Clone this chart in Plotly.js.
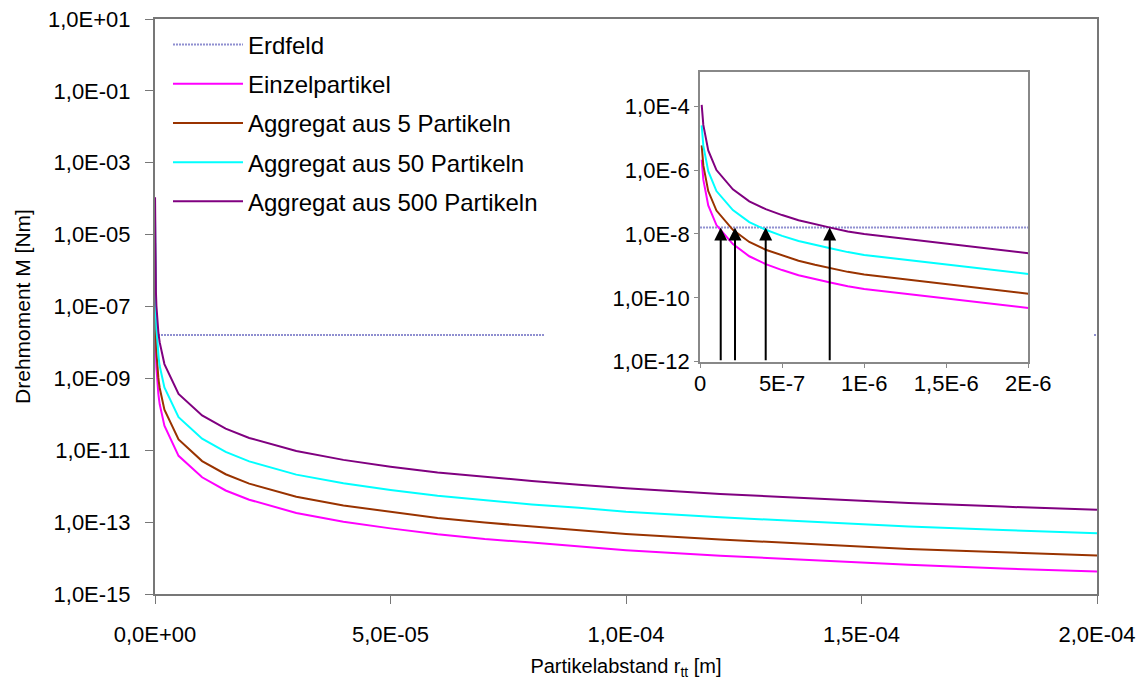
<!DOCTYPE html>
<html>
<head>
<meta charset="utf-8">
<script src="https://cdn.plot.ly/plotly-3.0.1.min.js"></script>
<style>html,body{margin:0;padding:0;background:#fff;}#chart{width:1147px;height:680px;}</style>
</head>
<body>
<div id="chart"></div>
<script>
// Particle distance r_tt [m]
const distance = [1e-8, 2e-8, 5e-8, 1e-7, 2e-7, 3e-7, 4e-7, 5e-7, 6e-7, 7e-7, 8e-7, 9e-7, 1e-6, 2e-6,
  5e-6, 1e-5, 1.5e-5, 2e-5, 3e-5, 4e-5, 5e-5, 6e-5, 7e-5, 8e-5, 9e-5, 1e-4, 1.2e-4, 1.4e-4, 1.6e-4, 1.8e-4, 2e-4];

// Torque M [Nm]
const einzelpartikel = [2.1e-6, 5.0e-7, 7.8e-8, 1.9e-8, 4.8e-9, 2.0e-9, 1.14e-9, 7.4e-10, 5.1e-10, 3.8e-10, 2.95e-10, 2.3e-10, 1.9e-10, 4.8e-11,
  7.0e-12, 1.77e-12, 7.6e-13, 4.2e-13, 1.8e-13, 1.03e-13, 6.7e-14, 4.6e-14, 3.4e-14, 2.7e-14, 2.1e-14, 1.66e-14, 1.16e-14, 8.6e-15, 6.5e-15, 5.1e-15, 4.2e-15];
const aggregat5 = [5.9e-6, 1.4e-6, 2.2e-7, 5.4e-8, 1.35e-8, 5.6e-9, 3.2e-9, 2.1e-9, 1.45e-9, 1.08e-9, 8.3e-10, 6.5e-10, 5.4e-10, 1.35e-10,
  2.0e-11, 5.0e-12, 2.15e-12, 1.18e-12, 5.1e-13, 2.9e-13, 1.9e-13, 1.3e-13, 9.7e-14, 7.5e-14, 5.9e-14, 4.7e-14, 3.3e-14, 2.4e-14, 1.8e-14, 1.45e-14, 1.18e-14];
const aggregat50 = [2.5e-5, 5.8e-6, 9.2e-7, 2.2e-7, 5.6e-8, 2.35e-8, 1.35e-8, 8.7e-9, 6.0e-9, 4.5e-9, 3.5e-9, 2.7e-9, 2.2e-9, 5.6e-10,
  8.3e-11, 2.1e-11, 9.0e-12, 4.9e-12, 2.1e-12, 1.2e-12, 7.8e-13, 5.4e-13, 4.0e-13, 3.1e-13, 2.5e-13, 1.95e-13, 1.36e-13, 1.0e-13, 7.6e-14, 6.0e-14, 4.9e-14];
const aggregat500 = [1.1e-4, 2.6e-5, 4.1e-6, 1.0e-6, 2.5e-7, 1.05e-7, 6.0e-8, 3.9e-8, 2.7e-8, 2.0e-8, 1.55e-8, 1.2e-8, 1.0e-8, 2.5e-9,
  3.7e-10, 9.3e-11, 4.0e-11, 2.2e-11, 9.5e-12, 5.4e-12, 3.5e-12, 2.4e-12, 1.8e-12, 1.4e-12, 1.1e-12, 8.7e-13, 6.1e-13, 4.5e-13, 3.4e-13, 2.7e-13, 2.2e-13];

// Earth field torque (constant)
const erdfeldX = [0, 2e-4];
const erdfeldY = [1.6e-8, 1.6e-8];

// Distances where curves cross the Erdfeld level (arrows in inset)
const crossR = [1.26e-7, 2.13e-7, 4.0e-7, 7.9e-7];

const seriesNames = ['Einzelpartikel', 'Aggregat aus 5 Partikeln', 'Aggregat aus 50 Partikeln', 'Aggregat aus 500 Partikeln'];
const seriesData = [einzelpartikel, aggregat5, aggregat50, aggregat500];
const seriesColors = ['#ff00ff', '#993300', '#00ffff', '#800080'];

const mainYTickVals = [1e1, 1e-1, 1e-3, 1e-5, 1e-7, 1e-9, 1e-11, 1e-13, 1e-15];
const mainYTickText = ['1,0E+01', '1,0E-01', '1,0E-03', '1,0E-05', '1,0E-07', '1,0E-09', '1,0E-11', '1,0E-13', '1,0E-15'];
const mainXTickVals = [0, 5e-5, 1e-4, 1.5e-4, 2e-4];
const mainXTickText = ['0,0E+00', '5,0E-05', '1,0E-04', '1,5E-04', '2,0E-04'];
const insetYTickVals = [1e-4, 1e-6, 1e-8, 1e-10, 1e-12];
const insetYTickText = ['1,0E-4', '1,0E-6', '1,0E-8', '1,0E-10', '1,0E-12'];
const insetXTickVals = [0, 5e-7, 1e-6, 1.5e-6, 2e-6];
const insetXTickText = ['0', '5E-7', '1E-6', '1,5E-6', '2E-6'];

const FONT = 'Liberation Sans, Arial, sans-serif';
const erdColor = '#8f8fd0';
const erdDash = '2px,1px';

const traces = [];
traces.push({x: erdfeldX, y: erdfeldY, type: 'scatter', mode: 'lines', name: 'Erdfeld',
  legendgroup: 'g0', line: {color: erdColor, width: 2, dash: erdDash}, xaxis: 'x', yaxis: 'y'});
seriesNames.forEach((n, i) => {
  traces.push({x: distance, y: seriesData[i], type: 'scatter', mode: 'lines', name: n,
    legendgroup: 'g' + (i + 1), line: {color: seriesColors[i], width: 2}, xaxis: 'x', yaxis: 'y'});
});
// empty white panel behind the inset (covers the area of the embedded chart)
traces.push({x: [], y: [], type: 'scatter', mode: 'lines', showlegend: false, hoverinfo: 'skip', xaxis: 'x2', yaxis: 'y2'});
// inset traces
traces.push({x: erdfeldX, y: erdfeldY, type: 'scatter', mode: 'lines', showlegend: false,
  line: {color: erdColor, width: 2, dash: erdDash}, xaxis: 'x3', yaxis: 'y3'});
seriesNames.forEach((n, i) => {
  traces.push({x: distance, y: seriesData[i], type: 'scatter', mode: 'lines', showlegend: false,
    line: {color: seriesColors[i], width: 2}, xaxis: 'x3', yaxis: 'y3'});
});

const annotations = crossR.map(r => ({
  xref: 'x3', yref: 'y3', axref: 'x3', ayref: 'y3',
  x: r, y: Math.log10(erdfeldY[0]), ax: r, ay: -12,
  text: '', showarrow: true, arrowhead: 2, arrowsize: 1.3, arrowwidth: 2, arrowcolor: '#000', standoff: 0, startstandoff: 0
}));

const layout = {
  width: 1147, height: 680,
  margin: {l: 155, r: 50, t: 19, b: 86},
  paper_bgcolor: '#fff', plot_bgcolor: '#fff',
  font: {family: FONT, color: '#000'},
  showlegend: true,
  legend: {x: 0.0138, y: 0.994, xanchor: 'left', yanchor: 'top', bgcolor: 'rgba(0,0,0,0)',
    font: {size: 24, family: FONT}, itemwidth: 70, tracegroupgap: 5, traceorder: 'grouped'},
  xaxis: {domain: [0, 1], range: [0, 2e-4], tickvals: mainXTickVals, ticktext: mainXTickText,
    ticks: 'outside', ticklen: 8, tickcolor: '#777', tickwidth: 1, ticklabelstandoff: 12,
    showgrid: false, zeroline: false, showline: true, linecolor: '#777', linewidth: 2, mirror: true,
    tickfont: {size: 22}, title: {text: 'Partikelabstand r<sub>tt</sub> [m]', font: {size: 20}, standoff: 14}},
  yaxis: {domain: [0, 1], type: 'log', range: [-15, 1], tickvals: mainYTickVals, ticktext: mainYTickText,
    ticks: 'outside', ticklen: 8, tickcolor: '#777', tickwidth: 1, ticklabelstandoff: 10,
    showgrid: false, zeroline: false, showline: true, linecolor: '#777', linewidth: 2, mirror: true,
    tickfont: {size: 22}, title: {text: 'Drehmoment M [Nm]', font: {size: 21}, standoff: 12}},
  xaxis2: {domain: [0.414, 0.9958], anchor: 'y2', visible: false, showgrid: false, zeroline: false, range: [0, 1]},
  yaxis2: {domain: [0.3287, 0.9948], anchor: 'x2', visible: false, showgrid: false, zeroline: false, range: [0, 1]},
  xaxis3: {domain: [0.5786, 0.9271], anchor: 'y3', range: [0, 2e-6], tickvals: insetXTickVals, ticktext: insetXTickText,
    ticks: 'outside', ticklen: 4, tickcolor: '#888', ticklabelstandoff: -3, showgrid: false, zeroline: false,
    showline: true, linecolor: '#888', linewidth: 2, mirror: true, tickfont: {size: 22}},
  yaxis3: {domain: [0.404, 0.9078], anchor: 'x3', type: 'log', range: [-12, -2.93], tickvals: insetYTickVals, ticktext: insetYTickText,
    ticks: 'outside', ticklen: 4, tickcolor: '#888', showgrid: false, zeroline: false,
    showline: true, linecolor: '#888', linewidth: 2, mirror: true, tickfont: {size: 22}},
  annotations: annotations
};

Plotly.newPlot('chart', traces, layout, {displayModeBar: false, staticPlot: true});
</script>
</body>
</html>
